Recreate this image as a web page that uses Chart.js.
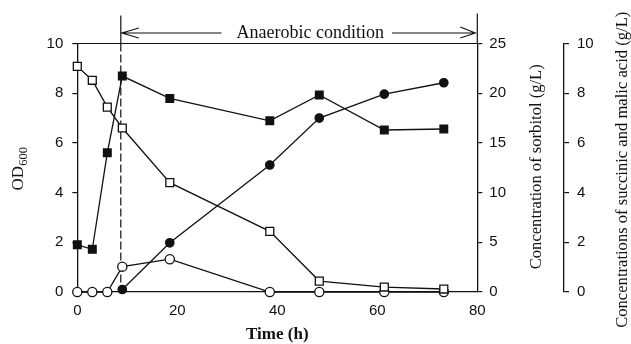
<!DOCTYPE html>
<html><head><meta charset="utf-8">
<script src="https://cdn.jsdelivr.net/npm/chart.js@4"></script>
<style>html,body{margin:0;padding:0;background:#fff}canvas{display:block}</style>
</head><body>
<canvas id="c" width="631" height="344"></canvas>
<script>
// ---- data ----
const timeOD = [0, 3, 6, 9, 18.5, 38.5, 48.4, 61.4, 73.3];
const od600 = [1.9, 1.72, 5.6, 8.69, 7.79, 6.89, 7.93, 6.52, 6.56];
const timeSorbitol = [0, 3, 6, 9, 18.5, 38.5, 48.4, 61.4, 73.3];
const sorbitol = [22.7, 21.3, 18.6, 16.5, 11.0, 6.1, 1.1, 0.5, 0.3];
const timeSuccinic = [9, 18.5, 38.5, 48.4, 61.4, 73.3];
const succinic = [0.1, 1.98, 5.11, 7.0, 7.96, 8.42];
const timeMalic = [0, 3, 6, 9, 18.5, 38.5, 48.4, 61.4, 73.3];
const malic = [0, 0, 0, 1.02, 1.32, 0, 0, 0, 0];
const xTickValues = [0, 20, 40, 60, 80];
const odTickValues = [0, 2, 4, 6, 8, 10];
const sorbitolTickValues = [0, 5, 10, 15, 20, 25];
const acidTickValues = [0, 2, 4, 6, 8, 10];
const anaerobicStart = 8.7;
const anaerobicEnd = 80;
const anaerobicLabel = 'Anaerobic condition';
const anaerobicLabelCenter = 46.6;
const xTitle = 'Time (h)';
const odTitleMain = 'OD';
const odTitleSub = '600';
const sorbitolTitle = 'Concentration of sorbitol (g/L)';
const acidTitle = 'Concentrations of succinic and malic acid (g/L)';

const pts = (xs, ys) => xs.map((x, i) => ({x, y: ys[i]}));
const INK = '#111';
const tickFont = {family: '"Liberation Sans", Arial, sans-serif', size: 15};
const serif = '"Liberation Serif", "Times New Roman", serif';

function fixedTicks(values) {
  return function (scale) { scale.ticks = values.map(v => ({value: v})); };
}
function yAxis(position, weight, min, max, values, width, padding) {
  return {
    type: 'linear', position, weight, min, max,
    afterBuildTicks: fixedTicks(values),
    afterFit: s => { s.width = width; },
    grid: {display: true, drawOnChartArea: false, drawTicks: true, tickLength: 5, color: INK, lineWidth: 1.2},
    border: {display: true, color: INK, width: 1.3},
    ticks: {color: INK, font: tickFont, padding}
  };
}

const overlay = {
  id: 'overlay',
  beforeDatasetsDraw(chart) {
    const {ctx, chartArea: a, scales} = chart;
    const xs = scales.x.getPixelForValue(anaerobicStart);
    ctx.save();
    ctx.strokeStyle = INK; ctx.lineWidth = 1.2;
    // top frame
    ctx.beginPath(); ctx.moveTo(a.left, a.top); ctx.lineTo(a.right, a.top); ctx.stroke();
    // right axis extension above the frame
    ctx.beginPath(); ctx.moveTo(a.right, a.top - 30); ctx.lineTo(a.right, a.top); ctx.stroke();
    // anaerobic marker: solid above the frame, dashed inside
    ctx.beginPath(); ctx.moveTo(xs, a.top - 28); ctx.lineTo(xs, a.top); ctx.stroke();
    ctx.setLineDash([8, 3]);
    ctx.beginPath(); ctx.moveTo(xs, a.top); ctx.lineTo(xs, a.bottom); ctx.stroke();
    ctx.restore();
  },
  afterDraw(chart) {
    const {ctx, chartArea: a, scales} = chart;
    const x0 = scales.x.getPixelForValue(anaerobicStart);
    const x1 = scales.x.getPixelForValue(anaerobicEnd);
    const xc = scales.x.getPixelForValue(anaerobicLabelCenter);
    const ay = a.top - 10.5;
    ctx.save();
    ctx.fillStyle = INK; ctx.strokeStyle = INK; ctx.lineWidth = 1.1;
    ctx.font = '18px ' + serif;
    const tw = ctx.measureText(anaerobicLabel).width;
    ctx.textAlign = 'center'; ctx.textBaseline = 'middle';
    ctx.fillText(anaerobicLabel, xc, ay);
    ctx.beginPath();
    ctx.moveTo(x0, ay); ctx.lineTo(xc - tw / 2 - 15, ay);
    ctx.moveTo(xc + tw / 2 + 8, ay); ctx.lineTo(x1 - 2, ay);
    // arrow heads
    ctx.moveTo(x0 + 18, ay - 5); ctx.lineTo(x0 + 1, ay); ctx.lineTo(x0 + 18, ay + 5);
    ctx.moveTo(x1 - 17, ay - 6); ctx.lineTo(x1 - 2, ay); ctx.lineTo(x1 - 17, ay + 5);
    ctx.stroke();

    // x title
    ctx.font = 'bold 17px ' + serif;
    ctx.textAlign = 'center'; ctx.textBaseline = 'alphabetic';
    ctx.fillText(xTitle, (a.left + a.right) / 2, 339);

    // OD600 title
    const cy = (a.top + a.bottom) / 2;
    ctx.save();
    ctx.translate(19, cy + 1);
    ctx.rotate(-Math.PI / 2);
    ctx.font = '17px ' + serif;
    const wMain = ctx.measureText(odTitleMain).width;
    ctx.font = '12.5px ' + serif;
    const wSub = ctx.measureText(odTitleSub).width;
    const start = -(wMain + wSub) / 2;
    ctx.textAlign = 'left'; ctx.textBaseline = 'middle';
    ctx.font = '17px ' + serif;
    ctx.fillText(odTitleMain, start, 0);
    ctx.font = '12.5px ' + serif;
    ctx.fillText(odTitleSub, start + wMain, 5);
    ctx.restore();

    // right titles
    ctx.font = '16.6px ' + serif;
    ctx.textAlign = 'center'; ctx.textBaseline = 'middle';
    ctx.save(); ctx.translate(537, cy - 1); ctx.rotate(-Math.PI / 2);
    ctx.fillText(sorbitolTitle, 0, 0); ctx.restore();
    ctx.save(); ctx.translate(623, cy + 2); ctx.rotate(-Math.PI / 2);
    ctx.fillText(acidTitle, 0, 0); ctx.restore();
    ctx.restore();
  }
};

const common = {borderColor: INK, borderWidth: 1.3, pointBorderColor: INK, pointBorderWidth: 1.3, tension: 0, fill: false, clip: false};

new Chart(document.getElementById('c'), {
  type: 'line',
  data: {
    datasets: [
      {...common, label: 'Sorbitol', data: pts(timeSorbitol, sorbitol), yAxisID: 'y2', pointStyle: 'rect', pointRadius: 5.6, pointBackgroundColor: '#fff'},
      {...common, label: 'Malic acid', data: pts(timeMalic, malic), yAxisID: 'y3', pointStyle: 'circle', pointRadius: 4.6, pointBackgroundColor: '#fff'},
      {...common, label: 'Succinic acid', data: pts(timeSuccinic, succinic), yAxisID: 'y3', pointStyle: 'circle', pointRadius: 4.2, pointBackgroundColor: INK},
      {...common, label: 'OD600', data: pts(timeOD, od600), yAxisID: 'y', pointStyle: 'rect', pointRadius: 5.4, pointBackgroundColor: INK}
    ]
  },
  options: {
    responsive: false, animation: false, devicePixelRatio: 1,
    layout: {padding: {top: 43.5, left: 0, right: 0, bottom: 0}},
    plugins: {legend: {display: false}, tooltip: {enabled: false}},
    scales: {
      x: {
        type: 'linear', position: 'bottom', min: 0, max: 80,
        afterBuildTicks: fixedTicks(xTickValues),
        afterFit: s => { s.height = 52; },
        grid: {display: true, drawOnChartArea: false, drawTicks: false, color: INK},
        border: {display: true, color: INK, width: 1.3},
        ticks: {color: INK, font: tickFont, padding: 10, maxRotation: 0}
      },
      y: yAxis('left', 0, 0, 10, odTickValues, 77.3, 9),
      y2: yAxis('right', 1, 0, 25, sorbitolTickValues, 86.7, 7),
      y3: yAxis('right', 2, 0, 10, acidTickValues, 67, 8)
    }
  },
  plugins: [overlay]
});
</script>
</body></html>
